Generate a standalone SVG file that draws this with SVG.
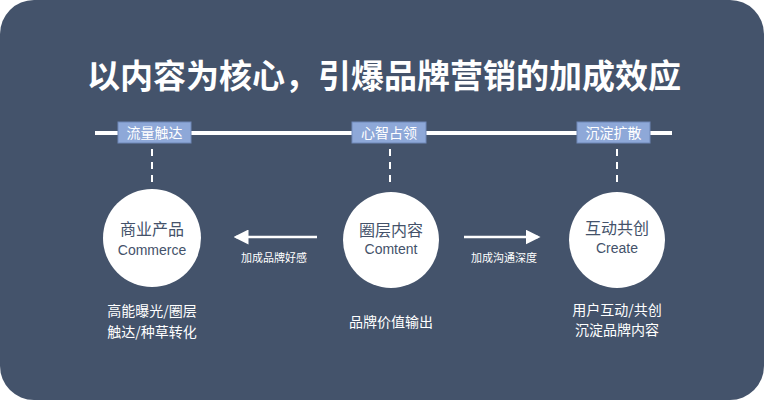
<svg xmlns="http://www.w3.org/2000/svg" width="764" height="400" viewBox="0 0 764 400">
<style>
text{font-family:"Noto Sans CJK SC","Noto Sans",sans-serif;fill:#fff;text-anchor:middle}
.tag{fill:#8ea8d8;stroke:#6f88b8;stroke-width:1}
.dash{stroke:#fff;stroke-width:2;stroke-dasharray:7 6}
.c{fill:#fff}
.cn{fill:#44526a;font-size:16px}
.en{fill:#44526a;font-size:14px;font-family:"Liberation Sans","Noto Sans",sans-serif}
.lbl{font-size:11px}
.bt{font-size:14px}
.arr{stroke:#fff;stroke-width:2.5;fill:none}
</style>
<defs><marker id="ah" markerWidth="6" markerHeight="6" refX="5" refY="3" orient="auto" markerUnits="strokeWidth"><path d="M0,0L6,3L0,6z" fill="#fff"/></marker></defs>
<rect x="0" y="0" width="764" height="400" rx="34" fill="#44536b"/>
<text x="384" y="88" style="font-size:33px;font-weight:bold">以内容为核心，引爆品牌营销的加成效应</text>
<rect x="95" y="131" width="577" height="4" fill="#fff"/>
<g id="tag1"><rect class="tag" x="118" y="122" width="73" height="21"/><text x="154.5" y="138" style="font-size:14px">流量触达</text></g>
<g id="tag2"><rect class="tag" x="352" y="122" width="74" height="21"/><text x="389" y="138" style="font-size:14px">心智占领</text></g>
<g id="tag3"><rect class="tag" x="577" y="122" width="73" height="21"/><text x="613.5" y="138" style="font-size:14px">沉淀扩散</text></g>
<g id="connectors">
<line class="dash" x1="152" y1="149" x2="152" y2="186"/>
<line class="dash" x1="390" y1="149" x2="390" y2="186"/>
<line class="dash" x1="617" y1="149" x2="617" y2="186"/>
<line class="arr" x1="317" y1="237" x2="236" y2="237" marker-end="url(#ah)"/>
<line class="arr" x1="464" y1="237" x2="538" y2="237" marker-end="url(#ah)"/>
<text class="lbl" x="274" y="262">加成品牌好感</text>
<text class="lbl" x="504" y="262">加成沟通深度</text>
</g>
<g id="commerce"><circle class="c" cx="152" cy="238" r="49"/><text class="cn" x="152" y="235">商业产品</text><text class="en" x="152" y="255">Commerce</text>
<text class="bt" x="152" y="316">高能曝光/圈层</text><text class="bt" x="152" y="337">触达/种草转化</text></g>
<g id="content"><circle class="c" cx="391" cy="240" r="48"/><text class="cn" x="391" y="236">圈层内容</text><text class="en" x="391" y="254">Comtent</text>
<text class="bt" x="391" y="327">品牌价值输出</text></g>
<g id="create"><circle class="c" cx="617" cy="240" r="48"/><text class="cn" x="617" y="234">互动共创</text><text class="en" x="617" y="253">Create</text>
<text class="bt" x="617" y="315">用户互动/共创</text><text class="bt" x="617" y="335">沉淀品牌内容</text></g>
</svg>
